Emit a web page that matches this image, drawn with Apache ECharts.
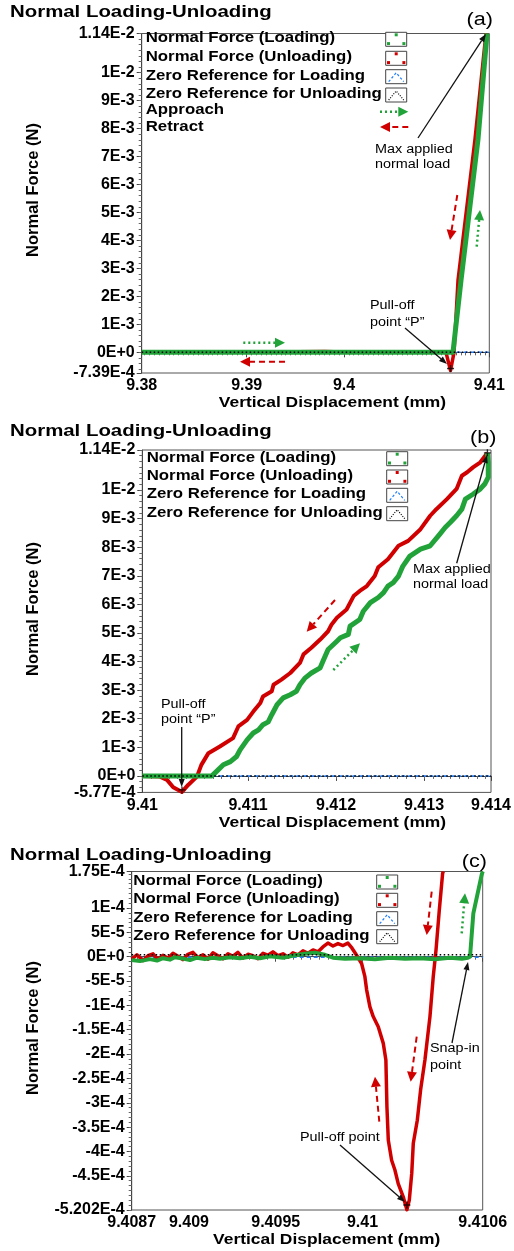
<!DOCTYPE html>
<html><head><meta charset="utf-8">
<script src="https://cdn.jsdelivr.net/npm/echarts@6/dist/echarts.min.js"></script>
<style>html,body{margin:0;padding:0;background:#fff}#c{width:514px;height:1251px}</style>
</head><body><div id="c"></div>
<script>
// ================= DATA =================
// Panel (a)
const aXTickVals = [9.379209, 9.39, 9.40, 9.414933];
const aXTickLabels = ['9.38', '9.39', '9.4', '9.41'];
const aYTickVals = [-0.000739, 0, 0.001, 0.002, 0.003, 0.004, 0.005, 0.006, 0.007, 0.008, 0.009, 0.01, 0.0114];
const aYTickLabels = ['-7.39E-4', '0E+0', '1E-3', '2E-3', '3E-3', '4E-3', '5E-3', '6E-3', '7E-3', '8E-3', '9E-3', '1E-2', '1.14E-2'];
const aLoadX = [9.379209, 9.4112, 9.41203, 9.41377, 9.4147];
const aLoadY = [0, 0, 0.00259, 0.00761, 0.0114];
const aUnloadX = [9.379209, 9.3885, 9.3900, 9.3980, 9.4010, 9.4040, 9.41048, 9.41095, 9.41131, 9.41172, 9.41346, 9.41459];
const aUnloadY = [0, 0.00002, 0, 0.00003, 0, 0.00002, 0, -0.00065, 0, 0.00259, 0.00761, 0.0114];
const aMarkers = [[9.41095, -0.00058]];
const aZeroLoad = 0, aZeroUnload = 0;

// Panel (b)
const bXTickVals = [9.409799, 9.411, 9.412, 9.413, 9.413761];
const bXTickLabels = ['9.41', '9.411', '9.412', '9.413', '9.414'];
const bYTickVals = [-0.000577, 0, 0.001, 0.002, 0.003, 0.004, 0.005, 0.006, 0.007, 0.008, 0.009, 0.01, 0.0114];
const bYTickLabels = ['-5.77E-4', '0E+0', '1E-3', '2E-3', '3E-3', '4E-3', '5E-3', '6E-3', '7E-3', '8E-3', '9E-3', '1E-2', '1.14E-2'];
const bUnloadX = [9.409799, 9.41000, 9.41008, 9.41015, 9.41025, 9.41032, 9.41042, 9.41047, 9.41055, 9.41068, 9.41083, 9.41089, 9.41099, 9.41106, 9.41114, 9.41117, 9.41127, 9.41129, 9.41138, 9.41148, 9.41159, 9.41163, 9.41172, 9.41182, 9.41191, 9.41195, 9.41201, 9.41212, 9.41220, 9.41227, 9.41235, 9.41244, 9.41248, 9.41259, 9.41271, 9.41282, 9.41296, 9.41307, 9.41314, 9.41326, 9.41337, 9.41343, 9.41349, 9.41356, 9.41364, 9.41372];
const bUnloadY = [0, -0.000025, -0.00014, -0.000396, -0.00056, -0.000316, -0.000025, 0.000386, 0.000796, 0.00103, 0.00132, 0.00173, 0.00196, 0.00225, 0.00255, 0.00278, 0.00296, 0.00319, 0.00337, 0.00360, 0.00395, 0.00425, 0.00448, 0.00477, 0.00506, 0.00530, 0.00553, 0.00582, 0.00629, 0.00647, 0.00664, 0.00699, 0.00730, 0.00758, 0.00805, 0.00822, 0.00863, 0.00910, 0.00933, 0.00968, 0.01004, 0.01050, 0.01062, 0.01080, 0.01097, 0.01130];
const bLoadX = [9.409799, 9.41059, 9.41064, 9.41072, 9.41080, 9.41087, 9.41091, 9.41099, 9.41106, 9.41112, 9.41117, 9.41123, 9.41127, 9.41133, 9.41140, 9.41148, 9.41155, 9.41159, 9.41165, 9.41172, 9.41182, 9.41186, 9.41191, 9.41201, 9.41205, 9.41214, 9.41216, 9.41227, 9.41231, 9.41239, 9.41248, 9.41254, 9.41259, 9.41265, 9.41271, 9.41276, 9.41284, 9.41296, 9.41307, 9.41318, 9.41324, 9.41330, 9.41337, 9.41343, 9.41347, 9.41356, 9.41364, 9.41369, 9.41373, 9.41373, 9.41372];
const bLoadY = [0, 0, 0.00015, 0.00039, 0.00050, 0.00068, 0.00091, 0.00126, 0.00150, 0.00161, 0.00179, 0.00189, 0.00214, 0.00249, 0.00273, 0.00284, 0.00296, 0.00319, 0.00343, 0.00360, 0.00378, 0.00407, 0.00442, 0.00471, 0.00483, 0.00495, 0.00524, 0.00547, 0.00576, 0.00606, 0.00624, 0.00641, 0.00664, 0.00676, 0.00699, 0.00734, 0.00769, 0.00793, 0.00805, 0.00846, 0.00869, 0.00887, 0.00910, 0.00933, 0.00968, 0.00986, 0.01004, 0.01021, 0.01045, 0.01097, 0.01130];
const bMarkers = [[9.41025, -0.00049], [9.41372, 0.0113]];
const bZeroLoad = 0, bZeroUnload = 0;

// Panel (c)
const cXTickVals = [9.40867, 9.409, 9.4095, 9.41, 9.410693];
const cXTickLabels = ['9.4087', '9.409', '9.4095', '9.41', '9.4106'];
const cYTickVals = [-5.202e-4, -4.5e-4, -4e-4, -3.5e-4, -3e-4, -2.5e-4, -2e-4, -1.5e-4, -1e-4, -5e-5, 0, 5e-5, 1e-4, 1.75e-4];
const cYTickLabels = ['-5.202E-4', '-4.5E-4', '-4E-4', '-3.5E-4', '-3E-4', '-2.5E-4', '-2E-4', '-1.5E-4', '-1E-4', '-5E-5', '0E+0', '5E-5', '1E-4', '1.75E-4'];
const cLoadX = [9.40867, 9.408718, 9.408775, 9.408816, 9.408850, 9.408890, 9.408919, 9.408965, 9.409006, 9.409046, 9.409092, 9.409138, 9.409179, 9.409236, 9.409294, 9.409352, 9.409409, 9.409467, 9.409542, 9.409611, 9.409669, 9.409726, 9.409784, 9.409830, 9.409899, 9.409986, 9.410072, 9.410158, 9.410245, 9.410331, 9.410418, 9.410504, 9.410573, 9.410608, 9.410620, 9.410639, 9.410687, 9.410693];
const cLoadY = [-0.7e-5, -0.9e-5, -0.5e-5, -0.8e-5, -0.3e-5, -0.6e-5, -0.1e-5, -0.4e-5, -0.7e-5, -0.2e-5, -0.5e-5, -0.2e-5, -0.4e-5, -0.1e-5, -0.3e-5, 0, -0.3e-5, 0.1e-5, -0.2e-5, 0.3e-5, 0.6e-5, 0.8e-5, 0.4e-5, -0.2e-5, -0.4e-5, -0.3e-5, -0.5e-5, -0.2e-5, -0.4e-5, -0.3e-5, -0.5e-5, -0.2e-5, -0.4e-5, -0.2e-5, 0, 8.9e-5, 16.8e-5, 17.5e-5];
const cUnloadX = [9.40867, 9.408700, 9.408735, 9.408764, 9.408793, 9.408821, 9.408850, 9.408879, 9.408908, 9.408937, 9.408965, 9.408994, 9.409023, 9.409052, 9.409081, 9.409110, 9.409138, 9.409167, 9.409196, 9.409225, 9.409254, 9.409282, 9.409311, 9.409340, 9.409369, 9.409398, 9.409427, 9.409455, 9.409484, 9.409513, 9.409542, 9.409571, 9.409599, 9.409628, 9.409657, 9.409686, 9.409715, 9.409744, 9.409772, 9.409801, 9.409830, 9.409859, 9.409888, 9.409916, 9.409939, 9.409957, 9.409968, 9.409995, 9.410014, 9.410024, 9.410043, 9.410062, 9.410091, 9.410120, 9.410135, 9.410138, 9.410141, 9.410149, 9.410168, 9.410187, 9.410206, 9.410235, 9.410256, 9.410270, 9.410284, 9.410293, 9.410316, 9.410335, 9.410360, 9.410389, 9.410408, 9.410424, 9.410443, 9.410462, 9.410466];
const cUnloadY = [-0.5e-5, 0.4e-5, -0.8e-5, 0.2e-5, 0.6e-5, -0.6e-5, 0.3e-5, -0.3e-5, 0.7e-5, 0.1e-5, -0.6e-5, 0.5e-5, 0.9e-5, -0.2e-5, 0.4e-5, -0.5e-5, 0.8e-5, 0.2e-5, -0.4e-5, 0.6e-5, 0.1e-5, 0.9e-5, -0.3e-5, 0.5e-5, 0.2e-5, -0.4e-5, 0.7e-5, 0.3e-5, 1.0e-5, 0.2e-5, 0.6e-5, -0.1e-5, 0.8e-5, 0.4e-5, 1.2e-5, 0.7e-5, 1.4e-5, 1.0e-5, 2.0e-5, 2.8e-5, 2.2e-5, 2.7e-5, 2.3e-5, 2.8e-5, 1.8e-5, 0.8e-5, 0.2e-5,
  -1.4e-5, -4.1e-5, -6.8e-5, -10.3e-5, -12.3e-5, -14.4e-5, -17.8e-5, -21.2e-5, -26.0e-5, -30.8e-5, -37.7e-5, -41.8e-5, -43.8e-5, -46.6e-5, -49.3e-5, -52.0e-5, -50.0e-5, -44.5e-5, -38.3e-5, -33.6e-5, -27.4e-5, -21.2e-5, -12.3e-5, -4.1e-5, 1.4e-5, 9.6e-5, 17.1e-5, 17.5e-5];
const cMarkers = [[9.410256, -5.1e-4]];
const cZeroLoad = -1e-6, cZeroUnload = 4e-6;

// ================= STYLE / BUILD =================
const FONT = '"Liberation Sans", Arial, Helvetica, sans-serif';
const GREEN = '#22a33a', RED = '#d10000', BLUE = '#1f7fff';

function zip(xs, ys) { return xs.map((x, i) => [x, ys[i]]); }
function lab(v, vals, labs) {
  let bi = 0, bd = Infinity;
  vals.forEach((t, i) => { const d = Math.abs(t - v); if (d < bd) { bd = d; bi = i; } });
  return labs[bi];
}
function ticks(min, max, step) {
  const out = [];
  for (let k = Math.ceil(min / step - 1e-9); k * step <= max + 1e-12; k++) out.push(+(k * step).toFixed(10));
  return out;
}

const grids = [
  { left: 141.7, top: 33.5, width: 347.6, height: 339.5 },
  { left: 142.3, top: 450, width: 348.7, height: 342.4 },
  { left: 131.7, top: 871.5, width: 351, height: 338.5 }
].map(g => Object.assign(g, { show: true, borderColor: '#555', borderWidth: 1, backgroundColor: 'transparent', containLabel: false, outerBoundsMode: 'none' }));

const panels = [
  { xv: aXTickVals, xl: aXTickLabels, xm: 0.0005, yv: aYTickVals, yl: aYTickLabels, ym: 0.0002,
    load: zip(aLoadX, aLoadY), unload: zip(aUnloadX, aUnloadY), mk: aMarkers, z0: aZeroLoad, z1: aZeroUnload, gw: 5, rw: 3.5 },
  { xv: bXTickVals, xl: bXTickLabels, xm: 0.0001, yv: bYTickVals, yl: bYTickLabels, ym: 0.0002,
    load: zip(bLoadX, bLoadY), unload: zip(bUnloadX, bUnloadY), mk: bMarkers, z0: bZeroLoad, z1: bZeroUnload, gw: 5, rw: 4 },
  { xv: cXTickVals, xl: cXTickLabels, xm: 0.00005, yv: cYTickVals, yl: cYTickLabels, ym: 0.00001,
    load: zip(cLoadX, cLoadY), unload: zip(cUnloadX, cUnloadY), mk: cMarkers, z0: cZeroLoad, z1: cZeroUnload, gw: 4, rw: 3.5 }
];

const xAxis = [], yAxis = [], series = [];
const PLUS = 'path://M4,0 L6,0 L6,4 L10,4 L10,6 L6,6 L6,10 L4,10 L4,6 L0,6 L0,4 L4,4 Z';
panels.forEach((p, gi) => {
  const xmin = p.xv[0], xmax = p.xv[p.xv.length - 1];
  const ymin = p.yv[0], ymax = p.yv[p.yv.length - 1];
  const labStyle = { fontSize: 16, fontWeight: 'bold', color: '#000', fontFamily: FONT, hideOverlap: false };
  xAxis.push({ type: 'value', gridIndex: gi, min: xmin, max: xmax, position: 'bottom',
    axisLine: { show: true, lineStyle: { color: '#444', width: 1 } },
    axisTick: { show: true, length: 5, customValues: p.xv, lineStyle: { color: '#444' } },
    axisLabel: Object.assign({ show: true, customValues: p.xv, margin: 5, formatter: v => lab(v, p.xv, p.xl) }, labStyle),
    splitLine: { show: false } });
  xAxis.push({ type: 'value', gridIndex: gi, min: xmin, max: xmax, position: 'bottom',
    axisLine: { show: false }, axisTick: { show: true, length: 3, customValues: ticks(xmin, xmax, p.xm), lineStyle: { color: '#666' } },
    axisLabel: { show: false }, splitLine: { show: false } });
  yAxis.push({ type: 'value', gridIndex: gi, min: ymin, max: ymax, position: 'left',
    axisLine: { show: true, lineStyle: { color: '#444', width: 1 } },
    axisTick: { show: true, length: 5, customValues: p.yv, lineStyle: { color: '#444' } },
    axisLabel: Object.assign({ show: true, customValues: p.yv, margin: 7, formatter: v => lab(v, p.yv, p.yl) }, labStyle),
    splitLine: { show: false } });
  yAxis.push({ type: 'value', gridIndex: gi, min: ymin, max: ymax, position: 'left',
    axisLine: { show: false }, axisTick: { show: true, length: 3, customValues: ticks(ymin, ymax, p.ym), lineStyle: { color: '#666' } },
    axisLabel: { show: false }, splitLine: { show: false } });
  const xi = gi * 2, yi = gi * 2;
  const base = { type: 'line', xAxisIndex: xi, yAxisIndex: yi, showSymbol: false, symbol: 'none', animation: false, silent: true };
  series.push(Object.assign({}, base, { name: 'Zero Reference for Loading', data: [[xmin, p.z0], [xmax, p.z0]], z: 2,
    lineStyle: { color: BLUE, width: 1.5, type: [4, 3] } }));
  series.push(Object.assign({}, base, { name: 'Normal Force (Unloading)', data: p.unload, z: 3,
    lineStyle: { color: RED, width: p.rw, join: 'round' } }));
  series.push(Object.assign({}, base, { name: 'Normal Force (Loading)', data: p.load, z: 4,
    lineStyle: { color: GREEN, width: p.gw, join: 'round' } }));
  series.push(Object.assign({}, base, { name: 'Zero Reference for Unloading', data: [[xmin, p.z1], [xmax, p.z1]], z: 5,
    lineStyle: { color: '#000', width: 1.5, type: [1.5, 2.5] } }));
  series.push({ type: 'scatter', xAxisIndex: xi, yAxisIndex: yi, data: p.mk, symbol: PLUS, symbolSize: 7,
    itemStyle: { color: '#000' }, z: 6, silent: true, animation: false });
});

// ================= ANNOTATIONS (graphic) =================
const G = [];
function T(x, y, str, size, bold, align, sx) {
  G.push({ type: 'text', x: x, y: y, scaleX: sx === undefined ? 1.2 : sx, z: 50,
    style: { text: str, fontSize: size, fontWeight: bold ? 'bold' : 'normal', fontFamily: FONT, fill: '#000',
      align: align || 'left', verticalAlign: 'middle' } });
}
function arrow(x1, y1, x2, y2, color, dash, lw, hl, hw) {
  const dx = x2 - x1, dy = y2 - y1, L = Math.hypot(dx, dy), ux = dx / L, uy = dy / L;
  const bx = x2 - ux * hl, by = y2 - uy * hl, px = -uy, py = ux;
  G.push({ type: 'line', z: 50, shape: { x1: x1, y1: y1, x2: bx, y2: by }, style: { stroke: color, lineWidth: lw, lineDash: dash || null } });
  G.push({ type: 'polygon', z: 50, shape: { points: [[x2, y2], [bx + px * hw / 2, by + py * hw / 2], [bx - px * hw / 2, by - py * hw / 2]] }, style: { fill: color } });
}
const greenArrow = (x1, y1, x2, y2) => arrow(x1, y1, x2, y2, GREEN, [2, 3], 2.5, 10, 10);
const redArrow = (x1, y1, x2, y2) => arrow(x1, y1, x2, y2, RED, [6, 4], 2, 10, 10);
const blackArrow = (x1, y1, x2, y2) => arrow(x1, y1, x2, y2, '#111', null, 1.3, 8, 6);
function box(x0, yc, kind) {
  G.push({ type: 'rect', z: 50, shape: { x: x0, y: yc - 7, width: 21, height: 14 }, style: { fill: '#fff', stroke: '#444', lineWidth: 1 } });
  if (kind === 'g' || kind === 'r') {
    const c = kind === 'g' ? GREEN : RED;
    [[10.5, -4.5], [2.8, 4.3], [18.2, 4.3]].forEach(d => G.push({ type: 'rect', z: 51,
      shape: { x: x0 + d[0] - 1.5, y: yc + d[1] - 1.5, width: 3, height: 3 }, style: { fill: c } }));
  } else {
    G.push({ type: 'polyline', z: 51, shape: { points: [[x0 + 3, yc + 5], [x0 + 10.5, yc - 4], [x0 + 18, yc + 5]] },
      style: { stroke: kind === 'b' ? BLUE : '#000', lineWidth: 1.2, lineDash: kind === 'b' ? [2.5, 2] : [1, 1.5], fill: null } });
  }
}
function legend(tx, ix, rows) {
  const names = ['Normal Force (Loading)', 'Normal Force (Unloading)', 'Zero Reference for Loading', 'Zero Reference for Unloading'];
  const kinds = ['g', 'r', 'b', 'k'];
  names.forEach((n, i) => { T(tx, rows[i], n, 14, true); box(ix, rows[i] + 1, kinds[i]); });
}
const TITLE = 'Normal Loading-Unloading';
// panel a
T(10, 12.5, TITLE, 17, true);
T(466.5, 20, '(a)', 18, false);
legend(145.7, 385.7, [38.3, 57.3, 75.7, 94]);
T(145.7, 110.5, 'Approach', 14, true);
T(145.7, 127, 'Retract', 14, true);
greenArrow(380, 111.7, 408.3, 111.7);
redArrow(408.3, 127, 380, 127);
T(375, 150, 'Max applied', 12, false);
T(375, 165, 'normal load', 12, false);
blackArrow(418, 138, 486, 34);
T(370, 306, 'Pull-off', 12, false);
T(370, 323, 'point \u201CP\u201D', 12, false);
blackArrow(405, 328, 447, 364);
redArrow(457.3, 195, 450, 240);
greenArrow(476.7, 246.7, 480, 210);
greenArrow(243.3, 342.7, 285, 342.7);
redArrow(285, 361.7, 240, 361.7);
// panel b
T(10, 431, TITLE, 17, true);
T(470, 438.5, '(b)', 18, false);
legend(146.7, 386.7, [457.7, 476, 494.3, 512.7]);
T(413, 570, 'Max applied', 12, false);
T(413, 585, 'normal load', 12, false);
blackArrow(456.7, 563.3, 487, 455);
T(161, 705, 'Pull-off', 12, false);
T(161, 720, 'point \u201CP\u201D', 12, false);
blackArrow(181.7, 727, 181.7, 787);
redArrow(335, 600, 306.7, 631.7);
greenArrow(333.3, 670, 360, 643.3);
// panel c
T(10, 855, TITLE, 17, true);
T(461.7, 862, '(c)', 18, false);
legend(133.3, 376.7, [881, 899.3, 917.7, 935.7]);
T(300, 1138, 'Pull-off point', 12, false);
blackArrow(340, 1145, 405, 1202);
T(430, 1049, 'Snap-in', 12, false);
T(430, 1066, 'point', 12, false);
blackArrow(452, 1043, 468, 962);
redArrow(431.7, 891.7, 426.7, 935);
redArrow(416.7, 1036.7, 410.7, 1081.7);
redArrow(379.3, 1121.7, 375, 1076.7);
greenArrow(461.7, 933.3, 465, 893.3);
// axis names
[[190, 403.3, 332.5], [609, 823.3, 332.5], [1028, 1240, 326.7]].forEach(a => {
  G.push({ type: 'text', x: 33, y: a[0], rotation: Math.PI / 2, z: 50,
    style: { text: 'Normal Force (N)', fontSize: 16.5, fontWeight: 'bold', fontFamily: FONT, fill: '#000', align: 'center', verticalAlign: 'middle' } });
  T(a[2], a[1], 'Vertical Displacement (mm)', 14.5, true, 'center');
});

const chart = echarts.init(document.getElementById('c'), null, { renderer: 'canvas' });
chart.setOption({
  animation: false,
  backgroundColor: '#fff',
  grid: grids, xAxis: xAxis, yAxis: yAxis, series: series,
  graphic: { elements: G }
});
</script></body></html>
